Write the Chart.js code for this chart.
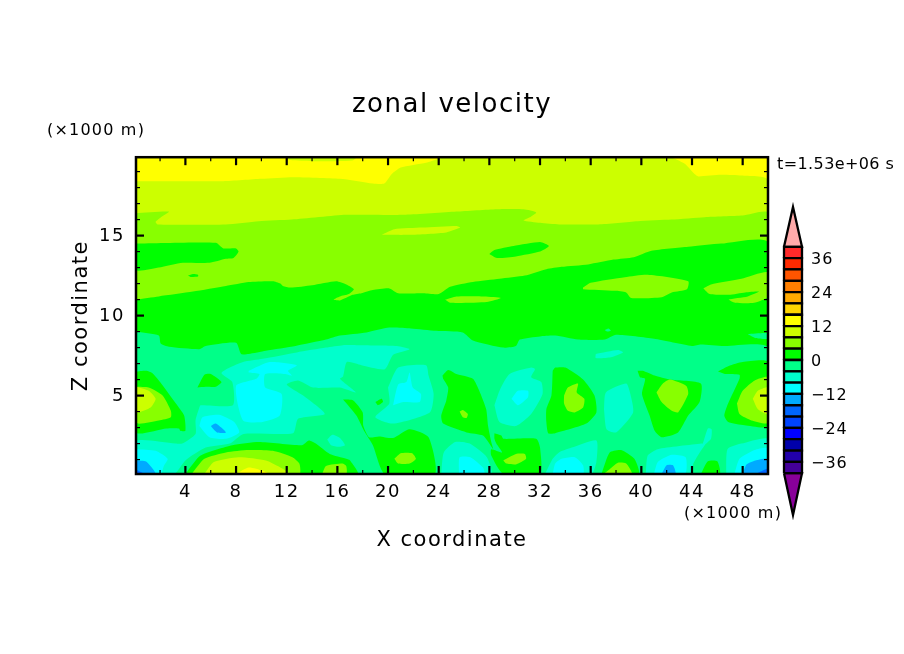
<!DOCTYPE html>
<html>
<head>
<meta charset="utf-8">
<title>zonal velocity</title>
<script src="https://cdn.jsdelivr.net/npm/chart.js@4"></script>
<style>
  html, body { margin: 0; padding: 0; background: #fff; }
  #wrap { position: relative; width: 904px; height: 654px; overflow: hidden; }
  #fieldBox { position: absolute; left: 0; top: 0; width: 904px; height: 654px; }
  #barBox { position: absolute; left: 770px; top: 190px; width: 134px; height: 340px; }
</style>
</head>
<body>
<div id="wrap">
  <div id="fieldBox"><canvas id="field" width="904" height="654"></canvas></div>
  <div id="barBox"><canvas id="bar" width="134" height="340"></canvas></div>
</div>
<script>
// tick labels
const xTickValues = [4, 8, 12, 16, 20, 24, 28, 32, 36, 40, 44, 48];
const xMinorValues = [2, 6, 10, 14, 18, 22, 26, 30, 34, 38, 42, 46];
const zTickValues = [5, 10, 15];
const zMinorValues = [1, 2, 3, 4, 6, 7, 8, 9, 11, 12, 13, 14, 16, 17, 18, 19];
const barTickValues = [-36, -24, -12, 0, 12, 24, 36];

// colour bar: lower bound of each 4 m/s band and its colour
const barLevels = [-40, -36, -32, -28, -24, -20, -16, -12, -8, -4, 0, 4, 8, 12, 16, 20, 24, 28, 32, 36];
const barColors = ['#440099', '#2200aa', '#0000aa', '#0000ff', '#0044ff', '#0066ff', '#00aaff', '#00ffff', '#00ffcc', '#00ff88',
    '#00ff00', '#88ff00', '#ccff00', '#ffff00', '#ffd500', '#ffaa00', '#ff7f00', '#ff5500', '#ff2a00', '#ff2a2a'];
const overColor = '#ffaaaa';
const underColor = '#880099';

// contour outlines, as [x km, z km], named by lower band bound
const upper12 = [[[0.1, 19.9], [50, 19.9], [50, 0.1], [0.1, 0.1]]];
const upper8 = [
    [[0.1, 18.4], [7, 18.4], [10, 18.55], [12.5, 18.65], [16.2, 18.55], [18.8, 18.25], [19.7, 18.25], [20.3, 18.85], [21, 19.25], [23, 19.55], [24, 19.8], [24.5, 19.9],
     [42.2, 19.9], [43.4, 19.5], [44.2, 18.85], [44.5, 18.7], [46.3, 18.8], [47.9, 18.75], [50, 18.45], [50, 0.1], [0.1, 0.1]],
    [[11.7, 19.9], [12.3, 19.72], [14, 19.65], [17.2, 19.7], [17.5, 19.9]]
];
const upper4 = [
    [[0.1, 16.4], [2.7, 16.5], [2, 16.1], [1.65, 15.85], [1.8, 15.7], [7.2, 15.7], [9.8, 15.9], [12.4, 16], [16.7, 16.3], [21.4, 16.3], [25.4, 16.5], [28.6, 16.65], [30.7, 16.65], [31.7, 16.45], [31.2, 16.15], [30.7, 15.95], [32, 15.8], [33.5, 15.7],
     [36.6, 15.7], [39.7, 15.9], [42.4, 16], [45, 16.15], [48, 16.25], [50, 16.4], [50, 0.1], [0.1, 0.1]]
];
const upperIsland8 = [
    [[19.5, 15.05], [20.5, 15.4], [22.7, 15.5], [25.4, 15.6], [25.7, 15.5], [24.6, 15.2], [21.7, 15.05]]
];
const upper0 = [
    [[0.1, 11], [1.9, 11.2], [4.6, 11.5], [7.2, 11.85], [9, 12.1], [10.9, 12.15], [11.5, 12], [11.7, 11.85], [12.3, 11.75], [14, 11.9], [15.9, 12.15], [16.7, 11.95], [17.3, 11.65], [16.9, 11.35], [16.2, 11.2], [15.7, 11], [16.2, 10.95], [17.2, 11.3], [17.9, 11.4], [18.8, 11.6], [20.1, 11.7], [20.8, 11.4], [22.8, 11.4], [24, 11.35], [24.9, 11.8], [26.7, 12.1], [28.8, 12.3], [30.8, 12.5], [32.5, 12.9], [33.7, 13.05],
     [35.8, 13.2], [37.8, 13.5], [39.4, 13.65], [40.8, 14.05], [43.7, 14.3], [46.3, 14.5], [50, 14.55], [50, 0.1], [0.1, 0.1]],
    [[0.1, 14.5], [6.4, 14.55], [7, 14.2], [8, 14.2], [8.2, 14], [7.8, 13.6], [7.2, 13.55], [5.9, 13.3], [3.8, 13.3], [1.9, 13], [0.1, 12.85]],
    [[4.2, 12.5], [4.6, 12.6], [5, 12.55], [5, 12.45], [4.4, 12.42]],
    [[28, 13.85], [28.4, 14.1], [29.9, 14.35], [32, 14.6], [32.7, 14.35], [32, 14], [30.1, 13.7], [28.6, 13.6]]
];
const upperIslands4 = [
    [[24.5, 11], [25.4, 11.2], [27.6, 11.2], [28.9, 11.1], [27.8, 10.85], [24.9, 10.8]],
    [[35.4, 11.75], [36, 12.05], [38.7, 12.4], [40.5, 12.55], [43.7, 12.15], [43.6, 11.65], [42.4, 11.45], [41.6, 11.15], [39.2, 11.1], [38.8, 11.45], [37.9, 11.55], [35.4, 11.65]],
    [[44.9, 11.7], [45.5, 11.95], [47.9, 12.3], [50, 12.7], [50, 11.2], [48.9, 10.8], [47.4, 10.8], [46.9, 11], [48.4, 11.2], [49.3, 11.5], [48.2, 11.45], [46.9, 11.3], [45.4, 11.35]]
];
const lowerBase = [
    [[0.1, 9], [1.9, 8.75], [2.05, 8.25], [2.7, 8.05], [5.1, 7.9], [5.6, 8.1], [8, 8.3], [8.4, 7.6], [9, 7.6], [10.35, 7.8], [12.7, 8.1], [15.1, 8.5], [16.2, 8.75], [18.3, 8.95], [20.1, 9.25], [21.8, 9.2], [23.8, 9.05], [25.9, 8.95], [26.7, 8.45], [29.1, 8], [30.1, 8.1], [30.4, 8.5], [32, 8.7], [33.2, 8.75], [35, 8.5], [37.1, 8.5], [38, 8.8], [41, 8.55], [44, 8.1], [44.7, 8.2], [46.5, 8.1], [50, 8], [50, 0.1], [0.1, 0.1]],
    [[48.4, 8.85], [50, 8.9], [50, 8.55], [49, 8.6]],
    [[37.1, 9.1], [37.4, 9.2], [37.6, 9.05], [37.3, 9]]
];
const cold8 = [
    [[0.1, 0.1], [0.1, 2.15], [3.2, 2], [3.75, 2], [4.8, 2.6], [4.8, 3.45], [5.1, 4.25], [5.2, 4.4], [7.75, 4.4], [7.7, 5.85], [6.85, 6.4], [7.5, 6.75], [8.55, 7.1], [10.1, 7.3], [12.8, 7.7], [15.1, 8], [16.45, 8.15], [17.5, 8.15], [20.7, 8.1], [21.7, 7.9], [20.4, 7.55], [19.75, 6.65], [17.9, 6.9], [16.75, 7.1], [16.45, 6.2], [16.2, 6.05], [17.45, 5.2], [16.2, 5.5], [14.1, 5.5], [12.9, 5.95], [12, 5.7], [13.3, 5], [15, 3.85], [12.9, 3.55], [12.5, 2.65], [8.6, 2.6], [7.5, 2], [5.6, 1.75], [4, 0.95], [3.1, 0.1]],
    [[15.2, 2.25], [15.6, 2.55], [16.2, 2.35], [16.6, 1.9], [16.1, 1.8], [15.5, 1.9]],
    [[20, 5.5], [20.8, 6.75], [23, 6.9], [23.2, 6.25], [23.6, 5.1], [23.3, 3.95], [20.4, 3.25], [19, 3.65], [20.1, 4.5]],
    [[24.2, 0.1], [24.4, 1.45], [25.3, 2.1], [26.45, 2], [27.8, 1.15], [28.15, 0.1]],
    [[28.4, 4.4], [28.85, 5.4], [29.6, 6.35], [31.3, 6.75], [31.6, 6.65], [31.3, 6.15], [32.1, 5.85], [32.2, 5.1], [31.3, 3.85], [30.1, 3.1], [28.8, 3.35]],
    [[37.05, 4.15], [37.2, 5.2], [38.8, 5.75], [39.1, 5.2], [39.35, 3.95], [38, 2.7], [37.25, 2.9]],
    [[36.4, 7.6], [38.15, 7.85], [38.55, 7.7], [37.6, 7.4], [36.4, 7.35]],
    [[32.4, 0.1], [33, 1.05], [33.5, 1.45], [34.5, 1.75], [36.45, 2.2], [36.45, 0.85], [36.05, 0.1]],
    [[40.35, 0.1], [40.5, 1.25], [41.3, 1.65], [44.75, 2], [44.85, 2], [45.25, 2.95], [45.55, 2.9], [45.5, 2.3], [45, 1.9], [44.1, 0.75], [44, 0.1]],
    [[46.7, 0.1], [46.8, 1.65], [47.9, 2], [50, 2.3], [50, 0.1]]
];
const cold12 = [
    [[0.1, 1.65], [1.65, 1.55], [2.6, 1.05], [2.3, 0.6], [2.05, 0.1], [0.1, 0.1]],
    [[5.1, 3.1], [5.35, 3.65], [6.65, 3.8], [7.85, 3.35], [8.25, 2.7], [7.2, 2.3], [5.9, 2.4]],
    [[9, 6.55], [10.65, 7.1], [12.8, 6.9], [12.1, 6.55], [12.4, 6.25], [11.85, 6.35], [10.3, 6.35], [10.3, 5.5], [11.6, 5.1], [11.45, 3.75], [10.1, 3.35], [8.55, 3.45], [8, 5.6], [9.6, 6.05], [9.85, 6.35], [9, 6.45]],
    [[20.4, 4.4], [20.8, 5.7], [21.45, 5.85], [21.7, 6.45], [21.95, 5.5], [22.6, 5.1], [22.5, 4.6], [21.2, 4.6]],
    [[25.6, 0.1], [25.65, 1.15], [26.5, 1.15], [27.5, 0.5], [27.6, 0.1]],
    [[29.75, 4.8], [30.25, 5.3], [31.05, 5.3], [31.05, 4.9], [30.25, 4.4]],
    [[33, 0.1], [33.2, 0.75], [33.7, 1.05], [34.75, 1.15], [35.4, 0.65], [35.4, 0.1]],
    [[41, 0.1], [41.3, 0.85], [42.4, 1.3], [43.5, 1.15], [43.45, 0.1]],
    [[47.35, 0.1], [47.75, 1.05], [48.95, 1.6], [50, 1.7], [50, 0.1]]
];
const cold16 = [
    [[0.1, 0.95], [0.9, 0.88], [1.65, 0.1], [0.1, 0.1]],
    [[6, 3.1], [6.4, 3.25], [7.2, 2.7], [6.5, 2.7]],
    [[41.6, 0.1], [42, 0.65], [42.5, 0.65], [42.7, 0.1]],
    [[48, 0.1], [48.3, 0.7], [49, 0.95], [50, 1.05], [50, 0.1]]
];
const cold20 = [
    [[0.1, 0.38], [0.75, 0.1], [0.1, 0.1]],
    [[49, 0.1], [50, 0.45], [50, 0.1]]
];
const warm0 = [
    [[0.1, 6.5], [0.9, 6.55], [1.4, 6.4], [2, 5.85], [3.25, 4.5], [3.9, 3.75], [4, 2.8], [3.6, 2.8], [3.5, 2.95], [2.5, 2.95], [0.1, 2.7]],
    [[4.95, 5.5], [5.5, 6.3], [6, 6.35], [6.85, 5.85], [6.4, 5.55], [5.6, 5.55]],
    [[4, 0.1], [5.2, 1.25], [7.7, 1.9], [9.8, 2.1], [13.2, 1.9], [13.75, 2.2], [14.3, 2], [15.4, 1.35], [16.7, 1.05], [17, 0.95], [17.6, 0.1]],
    [[16.45, 4.75], [17.25, 4.7], [18, 3.95], [18.05, 3.1], [18.5, 2.4], [19.3, 2.45], [20.4, 2.35], [21.7, 2.9], [23.2, 2.4], [23.7, 0.1], [19.75, 0.1], [18.8, 1.9], [18.1, 2.8], [17.5, 3.75]],
    [[19, 4.6], [19.5, 4.8], [19.6, 4.6], [19.2, 4.4]],
    [[24.3, 6.25], [24.75, 6.6], [25.4, 6.35], [26.7, 6.05], [27.2, 5.3], [27.75, 4.15], [27.9, 3.1], [28.15, 2.1], [28.3, 1.65], [27.5, 2.5], [26.2, 2.7], [24.35, 3.25], [24.2, 3.75], [24.6, 4.7], [24.75, 5.5], [24.35, 6.05]],
    [[28.4, 2.65], [28.95, 2.5], [29.1, 2.3], [31.7, 2.3], [32, 1.75], [32, 0.1], [29.1, 0.1], [28.15, 1.25], [28.15, 1.65], [29, 1.45], [28.55, 2], [28.4, 2.3]],
    [[33, 6.55], [33.2, 6.75], [34, 6.75], [35.4, 6], [36.3, 5], [36.45, 3.95], [35.65, 3.25], [33.2, 2.65], [32.65, 2.65], [32.5, 3.35], [32.5, 4.15], [32.9, 5]],
    [[36.85, 0.1], [37.5, 1.45], [38.4, 1.6], [39.45, 1.05], [39.8, 0.1]],
    [[39.7, 6.55], [40.1, 6.55], [41.05, 6.25], [42.25, 6], [44.7, 5.75], [44.6, 4.6], [43.7, 3.75], [42.9, 2.7], [41.6, 2.4], [41.05, 2.8], [40.65, 3.75], [40.05, 5.1], [40.3, 6.05], [39.9, 6.15]],
    [[44.7, 0.1], [45.25, 0.9], [46, 0.9], [46.2, 0.1]],
    [[46.05, 6.5], [46.9, 6.85], [48, 7.1], [50, 7.1], [50, 3.1], [48.15, 3.15], [46.85, 3.35], [46.55, 3.75], [46.85, 4.5], [47.75, 6.05], [47.75, 6.3], [46.6, 6.35]]
];
const warm4 = [
    [[0.1, 5.55], [1.1, 5.5], [2.2, 5], [2.85, 4.05], [2.85, 3.65], [1.9, 3.45], [0.1, 3.3]],
    [[4.5, 0.1], [5.5, 1.05], [7.2, 1.45], [9, 1.6], [10.9, 1.55], [12.45, 1.15], [13, 0.75], [13, 0.1]],
    [[14.8, 0.1], [15.1, 0.6], [16.4, 0.75], [16.7, 0.6], [16.7, 0.1]],
    [[20.5, 1.05], [21, 1.4], [21.9, 1.4], [22.2, 1.05], [21.7, 0.75], [20.8, 0.75]],
    [[25.65, 4], [25.9, 4.1], [26.3, 3.85], [26.2, 3.6], [25.9, 3.65]],
    [[29.1, 0.95], [30.1, 1.35], [30.8, 1.35], [30.9, 1.05], [30.1, 0.7], [29.35, 0.75]],
    [[33.9, 5], [34.2, 5.5], [35, 5.75], [34.9, 5.2], [35.5, 4.8], [35.4, 4.25], [34.75, 3.95], [34.2, 4.05], [33.9, 4.5]],
    [[37, 0.1], [37.5, 0.4], [38.15, 0.8], [38.8, 0.75], [39.25, 0.1]],
    [[41.2, 5.2], [41.7, 5.75], [42.25, 6], [43.55, 5.6], [43.7, 5.1], [42.9, 3.95], [42.4, 4.05], [41.6, 4.6]],
    [[47.55, 4.5], [48, 5.3], [48.95, 5.95], [50, 6.15], [50, 3.3], [48.7, 3.45], [47.75, 3.85]]
];
const warm8 = [
    [[0.1, 5.55], [1.1, 5.3], [1.65, 4.8], [1.25, 4.25], [0.1, 3.95]],
    [[5.5, 0.1], [6.25, 0.85], [8.2, 1.15], [10.35, 0.95], [11.65, 0.45], [12.2, 0.1]],
    [[48.8, 4.8], [49.2, 5.3], [50, 5.5], [50, 3.85], [49.2, 4.15]]
];
const warm12 = [
    [[8, 0.1], [9, 0.5], [10.1, 0.3], [10.6, 0.1]]
];

// paint order of the field, bottom first: [band lower bound, outlines]
const paintOrder = [
    [12, upper12], [8, upper8], [4, upper4], [8, upperIsland8], [0, upper0], [4, upperIslands4],
    [-4, lowerBase], [-8, cold8], [-12, cold12], [-16, cold16], [-20, cold20],
    [0, warm0], [4, warm4], [8, warm8], [12, warm12]
];

const fontFamily = '"DejaVu Sans", sans-serif';
Chart.defaults.color = '#000';
Chart.defaults.font.family = fontFamily;
Chart.defaults.animation = false;

function colorOf(level) {
    return barColors[barLevels.indexOf(level)];
}

function toPoints(outline) {
    const pts = outline.map(p => ({ x: p[0], y: p[1] }));
    pts.push(pts[0]);
    return pts;
}

var datasets = [];
paintOrder.forEach(function (layer) {
    layer[1].forEach(function (outline) {
        datasets.push({
            data: toPoints(outline),
            showLine: true,
            fill: 'shape',
            tension: 0.2,
            pointRadius: 0,
            borderWidth: 0,
            backgroundColor: colorOf(layer[0])
        });
    });
});
datasets.reverse(); // Chart.js paints the first dataset last

// tick marks point inward on all four sides, and the three small captions
const framePlugin = {
    id: 'frame',
    beforeDraw(chart) {
        chart.ctx.letterSpacing = '1.5px';
    },
    afterDraw(chart) {
        const ctx = chart.ctx;
        const a = chart.chartArea;
        const xs = chart.scales.x;
        const ys = chart.scales.y;
        ctx.save();
        ctx.strokeStyle = '#000';
        function mark(x1, y1, x2, y2, w) {
            ctx.lineWidth = w;
            ctx.beginPath();
            ctx.moveTo(x1, y1);
            ctx.lineTo(x2, y2);
            ctx.stroke();
        }
        xTickValues.forEach(v => {
            const p = xs.getPixelForValue(v);
            mark(p, a.bottom, p, a.bottom - 8, 2.2);
            mark(p, a.top, p, a.top + 8, 2.2);
        });
        xMinorValues.forEach(v => {
            const p = xs.getPixelForValue(v);
            mark(p, a.bottom, p, a.bottom - 4, 1.2);
            mark(p, a.top, p, a.top + 4, 1.2);
        });
        zTickValues.forEach(v => {
            const p = ys.getPixelForValue(v);
            mark(a.left, p, a.left + 8, p, 2.2);
            mark(a.right, p, a.right - 8, p, 2.2);
        });
        zMinorValues.forEach(v => {
            const p = ys.getPixelForValue(v);
            mark(a.left, p, a.left + 4, p, 1.2);
            mark(a.right, p, a.right - 4, p, 1.2);
        });
        ctx.lineWidth = 2.5;
        ctx.strokeRect(a.left, a.top, a.right - a.left, a.bottom - a.top);

        ctx.fillStyle = '#000';
        ctx.textAlign = 'left';
        ctx.textBaseline = 'alphabetic';
        ctx.font = '16px ' + fontFamily;
        ctx.letterSpacing = '1.2px';
        ctx.fillText('(\u00d71000 m)', 47, 135);
        ctx.fillText('(\u00d71000 m)', 684, 518);
        ctx.letterSpacing = '0.4px';
        ctx.fillText('t=1.53e+06 s', 777, 169);
        ctx.restore();
    }
};

new Chart(document.getElementById('field'), {
    type: 'scatter',
    data: { datasets: datasets },
    plugins: [framePlugin],
    options: {
        responsive: false,
        devicePixelRatio: 1,
        layout: { padding: { left: 0, right: 136, top: 0, bottom: 0 } },
        plugins: {
            legend: { display: false },
            tooltip: { enabled: false },
            title: {
                display: true,
                text: 'zonal velocity',
                fullSize: false,
                font: { size: 26, weight: 'normal', lineHeight: 1.2 },
                padding: { top: 90, bottom: 36 }
            }
        },
        scales: {
            x: {
                type: 'linear',
                min: 0.1,
                max: 50,
                grid: { display: false },
                border: { display: false },
                afterBuildTicks: s => { s.ticks = xTickValues.map(v => ({ value: v })); },
                afterFit: s => { s.height = 180; },
                ticks: { padding: 0, maxRotation: 0, autoSkip: false, font: { size: 18 } },
                title: { display: true, text: 'X coordinate', font: { size: 21 }, padding: { top: 0, bottom: 101 } }
            },
            y: {
                type: 'linear',
                min: 0.1,
                max: 19.9,
                grid: { display: false },
                border: { display: false },
                afterBuildTicks: s => { s.ticks = zTickValues.map(v => ({ value: v })); },
                afterFit: s => { s.width = 136; },
                ticks: { padding: 3, labelOffset: 1, font: { size: 18 } },
                title: { display: true, text: 'Z coordinate', font: { size: 21 }, padding: { top: 69, bottom: 0 } }
            }
        }
    }
});

// colour bar
var barSets = barLevels.map(function (lo, i) {
    var hi = lo + 4;
    return {
        data: [{ x: 0, y: lo }, { x: 1, y: lo }, { x: 1, y: hi }, { x: 0, y: hi }, { x: 0, y: lo }],
        showLine: true, fill: 'shape', tension: 0, pointRadius: 0, clip: false,
        borderWidth: 2.3, borderColor: '#000', backgroundColor: barColors[i]
    };
});
barSets.push({
    data: [{ x: 0, y: 40 }, { x: 0.5, y: 54.1 }, { x: 1, y: 40 }, { x: 0, y: 40 }],
    showLine: true, fill: 'shape', tension: 0, pointRadius: 0, clip: false,
    borderWidth: 2.3, borderColor: '#000', backgroundColor: overColor
});
barSets.push({
    data: [{ x: 0, y: -40 }, { x: 0.5, y: -54.8 }, { x: 1, y: -40 }, { x: 0, y: -40 }],
    showLine: true, fill: 'shape', tension: 0, pointRadius: 0, clip: false,
    borderWidth: 2.3, borderColor: '#000', backgroundColor: underColor
});

new Chart(document.getElementById('bar'), {
    type: 'scatter',
    data: { datasets: barSets },
    plugins: [{ id: 'spacing', beforeDraw(chart) { chart.ctx.letterSpacing = '1px'; } }],
    options: {
        responsive: false,
        devicePixelRatio: 1,
        layout: { padding: { left: 14, right: 0, top: 14.4, bottom: 14.4 } },
        plugins: { legend: { display: false }, tooltip: { enabled: false }, title: { display: false } },
        scales: {
            x: { type: 'linear', min: 0, max: 1, display: false },
            y: {
                type: 'linear',
                position: 'right',
                min: -55,
                max: 55,
                grid: { display: false },
                border: { display: false },
                afterBuildTicks: s => { s.ticks = barTickValues.map(v => ({ value: v })); },
                afterFit: s => { s.width = 102; s.paddingTop = 0; s.paddingBottom = 0; },
                ticks: {
                    padding: 1,
                    labelOffset: 1.5,
                    font: { size: 16 },
                    callback: v => String(v).replace('-', '\u2212')
                }
            }
        }
    }
});
</script>
</body>
</html>
